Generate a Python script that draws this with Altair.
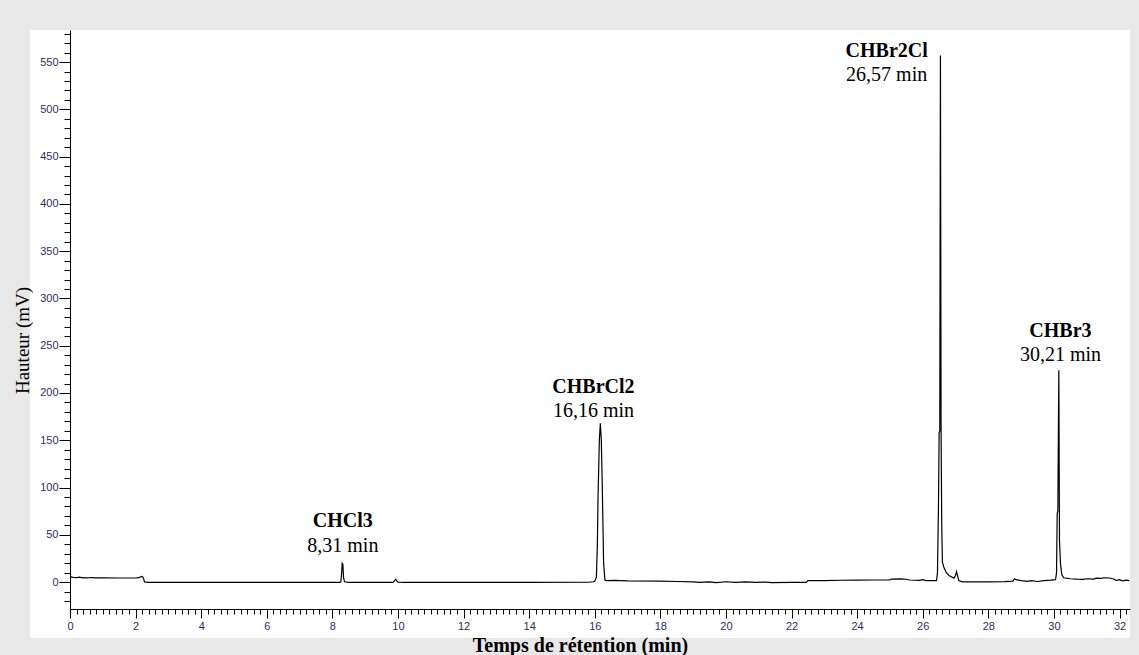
import altair as alt
import pandas as pd

# ---- chromatogram trace (retention time in min, signal in mV) ----
time_min = [
    0.00, 0.05, 0.10, 0.20, 0.30, 0.35, 0.50, 0.70, 0.75, 1.00, 1.50, 2.00, 2.10, 2.18, 2.22, 2.25, 2.27, 2.40,
    4.00, 6.00, 8.00, 8.24,
    8.26, 8.28, 8.30, 8.32, 8.34, 8.37, 8.50,
    9.85, 9.90, 9.93, 9.97, 10.00, 10.20, 12.00, 14.00, 15.80, 15.95,
    16.00, 16.05, 16.08, 16.10, 16.14, 16.17, 16.20, 16.23, 16.27, 16.31,
    16.35, 16.60, 16.80, 17.00, 18.00, 18.50, 19.00, 19.20, 19.50, 19.70, 20.00, 20.30, 20.60, 20.90,
    21.20, 21.40, 22.00, 22.45, 22.50, 23.00, 23.50, 24.00, 24.50, 25.00, 25.05, 25.30, 25.50, 25.60,
    25.90, 26.00, 26.10, 26.30, 26.42,
    26.45, 26.48, 26.50, 26.52, 26.54, 26.56, 26.58, 26.60, 26.65, 26.72, 26.80, 26.90, 26.95, 27.00,
    27.03, 27.06, 27.10, 27.20, 27.50, 28.00, 28.50, 28.75, 28.80, 28.85, 29.00, 29.20, 29.30, 29.50,
    29.70, 29.90, 30.05,
    30.08, 30.10, 30.12, 30.15, 30.17, 30.20, 30.24, 30.30, 30.50, 30.70, 30.90, 31.00, 31.20, 31.30,
    31.45, 31.50, 31.70, 31.85, 31.90, 32.00, 32.10, 32.20, 32.30,
]
signal_mv = [
    4.5, 5.5, 4.8, 4.6, 5.2, 4.6, 4.5, 4.8, 4.4, 4.4, 4.3, 4.3, 4.6, 6.0, 5.5, 3.0, 0.2, -0.3,
    -0.3, -0.4, -0.4, -0.3,
    0.5, 8.5, 20.0, 19.0, 5.0, 0.3, -0.3,
    -0.3, 1.5, 3.0, 1.0, -0.2, -0.3, -0.3, -0.3, -0.2, 0.3,
    0.8, 5.0, 40.0, 90.0, 150.0, 168.0, 150.0, 100.0, 20.0, 2.0,
    1.5, 1.8, 1.6, 1.2, 1.0, 0.6, 0.2, -0.3, 0.2, -0.5, 0.3, -0.4, 0.2, -0.3,
    0.0, -0.5, -0.4, -0.4, 1.5, 1.6, 1.9, 2.0, 2.2, 2.3, 3.2, 3.4, 3.0, 2.2,
    1.8, 2.5, 1.5, 1.6, 1.5,
    10.0, 80.0, 158.0, 160.0, 557.0, 158.0, 60.0, 21.0, 15.0, 10.0, 7.0, 5.0, 4.0, 7.0,
    11.0, 7.0, 1.5, 0.2, 0.3, 0.2, 0.4, 1.0, 3.5, 2.5, 1.5, 0.8, 1.6, 0.6,
    1.5, 2.0, 2.5,
    10.0, 73.0, 75.0, 224.0, 44.0, 20.0, 8.0, 4.5, 3.5, 3.0, 2.8, 3.5, 3.2, 4.2,
    3.8, 4.5, 4.3, 3.0, 1.5, 2.5, 1.2, 2.0, 1.5,
]

# ---- peak annotations ----
compounds = ["CHCl3", "CHBrCl2", "CHBr2Cl", "CHBr3"]
rt_labels = ["8,31 min", "16,16 min", "26,57 min", "30,21 min"]
label_time = [8.32, 15.96, 24.90, 30.20]
name_height = [65.0, 206.0, 562.0, 266.0]
rt_height = [38.0, 180.5, 536.0, 240.0]

# ---- axis ticks ----
x_ticks = [round(i * 0.2, 1) for i in range(0, 162)]
y_ticks = list(range(-20, 581, 10))

trace = pd.DataFrame({"t": time_min, "mv": signal_mv})
labels = pd.DataFrame({"t": label_time, "name": compounds, "rt": rt_labels,
                       "yn": name_height, "yr": rt_height})

xscale = alt.Scale(domain=[0, 32.32], nice=False, zero=False)
yscale = alt.Scale(domain=[-28.5, 584], nice=False, zero=False)

lab_color = "#2e2e5c"

x_axis = alt.Axis(
    values=x_ticks, tickCount=1000,
    labelExpr="datum.value % 2 == 0 ? format(datum.value, 'd') : ''",
    tickSize={"condition": {"test": "datum.value % 2 == 0", "value": 9}, "value": 5},
    labelOverlap=False, labelFlush=False, grid=False,
    labelFont="Liberation Sans", labelFontSize=11, labelColor=lab_color, labelPadding=2,
    domainColor="black", tickColor="black", domainWidth=1, tickWidth=1,
    title="Temps de rétention (min)", titleFont="Liberation Serif", titleFontSize=20,
    titleFontWeight="bold", titleColor="black", titleX=510, titleY=42,
    titleBaseline="alphabetic", zindex=1,
)
y_axis = alt.Axis(
    values=y_ticks, tickCount=1000,
    labelExpr="(datum.value % 50 == 0 && datum.value >= 0) ? format(datum.value, 'd') : ''",
    tickSize={"condition": {"test": "datum.value % 50 == 0", "value": 11}, "value": 6},
    labelOverlap=False, labelFlush=False, grid=False,
    labelFont="Liberation Sans", labelFontSize=11, labelColor=lab_color, labelPadding=1,
    domainColor="black", tickColor="black", domainWidth=1, tickWidth=1,
    title="Hauteur (mV)", titleFont="Liberation Serif", titleFontSize=19,
    titleFontWeight="normal", titleColor="black", titleX=-48, titleY=310,
    titleAngle=270, titleAlign="center", titleBaseline="middle", zindex=1,
)

panel = alt.Chart(alt.Data(values=[{"p": 1}])).mark_rect(color="white").encode(
    x=alt.value(-40), x2=alt.value(1060), y=alt.value(0), y2=alt.value(608)
)

line = alt.Chart(trace).mark_line(color="black", strokeWidth=1.2).encode(
    x=alt.X("t:Q", scale=xscale, axis=x_axis),
    y=alt.Y("mv:Q", scale=yscale, axis=y_axis),
    order="t:Q",
)

names = alt.Chart(labels).mark_text(
    font="Liberation Serif", fontSize=20, fontWeight="bold", color="black",
    align="center", baseline="middle",
).encode(x=alt.X("t:Q", scale=xscale), y=alt.Y("yn:Q", scale=yscale), text="name:N")

rts = alt.Chart(labels).mark_text(
    font="Liberation Serif", fontSize=20, color="black",
    align="center", baseline="middle",
).encode(x=alt.X("t:Q", scale=xscale), y=alt.Y("yr:Q", scale=yscale), text="rt:N")

chart = alt.layer(panel, line, names, rts).properties(
    width=1060, height=579,
    autosize=alt.AutoSizeParams(type="none"),
    padding={"left": 70, "top": 30, "right": 9, "bottom": 46},
    background="#e8e8e8",
).configure_view(strokeWidth=0)

chart.save("out.html", embed_options={"renderer": "svg", "actions": False})
